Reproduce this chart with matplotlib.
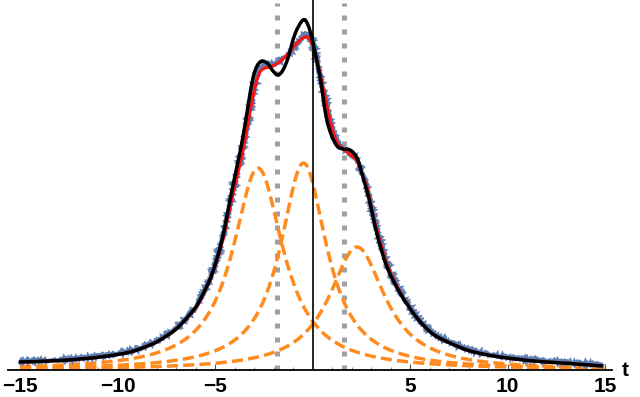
import numpy as np
import matplotlib
matplotlib.use("Agg")
import matplotlib.pyplot as plt
from matplotlib.path import Path
from matplotlib.patches import PathPatch
from matplotlib.ticker import MultipleLocator

# pixel scale: 19.5 px per t unit, t=0 at px 312.5
def px_to_t(px):
    return (np.asarray(px, dtype=float) - 312.5) / 19.5

# black curve (total model), read as (pixel x, height above axis in px)
black_px = [19, 60, 100, 130, 150, 160, 175, 185, 195, 202, 212, 222, 231, 240,
            245, 249, 253, 257, 262, 268, 273, 278, 283, 288, 295, 303, 308,
            313, 320, 326, 331, 337, 343, 350, 357, 363, 370, 377, 387, 400,
            417, 433, 450, 467, 483, 500, 520, 540, 570, 603]
black_h = [8, 9.5, 13, 18, 25, 30, 40, 50, 62, 74, 96, 130, 175, 218,
           245, 270, 292, 304, 309, 306, 299, 295, 300, 312, 336, 350, 345,
           327, 293, 254, 236, 224, 221, 220, 212, 193, 167, 136, 103, 77,
           52, 36, 27, 20, 16, 13, 10.5, 8.5, 6.5, 4]

# red curve (smooth fit)
red_px = [19, 60, 100, 130, 150, 160, 175, 185, 195, 202, 212, 222, 232, 242,
          248, 252, 256, 260, 265, 270, 278, 287, 297, 305, 310, 315, 323, 330,
          337, 347, 357, 363, 367, 372, 377, 387, 400, 417, 433, 450, 467, 483,
          500, 520, 540, 570, 603]
red_h = [8, 9.5, 13, 18, 25, 30, 40, 50, 61, 73, 95, 127, 172, 215,
         248, 268, 287, 298, 302, 303, 307, 315, 327, 333, 330, 317, 283, 250,
         228, 218, 209, 193, 183, 160, 140, 106, 78, 52, 36, 27, 20, 16,
         13, 10.5, 8.5, 6.5, 4]

# measured data (blue), slightly off the fit near the peaks
blue_h = [9, 10, 14, 19, 26, 31, 41, 51, 62, 75, 97, 130, 175, 218,
          250, 270, 290, 303, 306, 305, 308, 314, 326, 336, 335, 318, 282, 251,
          229, 219, 210, 194, 183, 160, 141, 107, 79, 53, 37, 28, 21, 17,
          14, 11.5, 9.5, 7.5, 5]

# three Lorentzian components (center px, height px, half width in t)
comp_center_px = [258, 303.5, 357]
comp_height = [202, 207, 123]
comp_width = [1.58, 1.45, 1.75]

# gray dotted markers
marker_px = [277, 344]

xticks = [-15, -10, -5, 5, 10, 15]


def smooth_path(x, y):
    # Catmull-Rom through the read points, drawn as cubic Bezier segments
    p = np.column_stack([x, y])
    verts = [p[0]]
    codes = [Path.MOVETO]
    n = len(p)
    for i in range(n - 1):
        p0 = p[i - 1] if i > 0 else p[i]
        p3 = p[i + 2] if i + 2 < n else p[i + 1]
        c1 = p[i] + (p[i + 1] - p0) / 6
        c2 = p[i + 1] - (p3 - p[i]) / 6
        verts += [c1, c2, p[i + 1]]
        codes += [Path.CURVE4] * 3
    return Path(verts, codes)


fig = plt.figure(figsize=(6.4, 3.97), dpi=100)
left, right = 8.3, 611.8
ax = fig.add_axes([left / 640, 27 / 397, (right - left) / 640, 370 / 397])
ax.set_xlim(px_to_t(left), px_to_t(right))
ax.set_ylim(0, 370)

t = np.linspace(-15, 15, 1200)
for c, h, w in zip(comp_center_px, comp_height, comp_width):
    x0 = px_to_t(c)
    ax.plot(t, h / (1 + ((t - x0) / w) ** 2), color='#FF8A1E', lw=2.5,
            linestyle=(0, (3.2, 1.5)), zorder=2)

for m in marker_px:
    ax.plot([px_to_t(m)] * 2, [0, 367], color='#A0A0A0', lw=3.6,
            linestyle=(0, (1.0, 1.8)), zorder=1.5)

blue = PathPatch(smooth_path(px_to_t(red_px), blue_h), fill=False,
                 edgecolor='#5E81B5', lw=2.8, zorder=3)
blue.set_sketch_params(scale=1.4, length=2.0, randomness=2)
ax.add_patch(blue)
ax.add_patch(PathPatch(smooth_path(px_to_t(red_px), red_h), fill=False,
                       edgecolor='#FF1010', lw=2.2, zorder=4))
ax.add_patch(PathPatch(smooth_path(px_to_t(black_px), black_h), fill=False,
                       edgecolor='black', lw=2.5, zorder=5))

ax.axvline(0, color='black', lw=1.2, zorder=6)

for s in ['left', 'right', 'top']:
    ax.spines[s].set_visible(False)
ax.spines['bottom'].set_linewidth(1.3)
ax.set_yticks([])
ax.set_xticks(xticks)
ax.set_xticklabels([f'{v}'.replace('-', '\u2212') for v in xticks],
                   fontfamily='Liberation Sans', fontweight='bold', fontsize=15)
ax.xaxis.set_minor_locator(MultipleLocator(1))
ax.tick_params(axis='x', which='major', direction='in', length=4, width=0.8,
               color='#555555', pad=5)
ax.tick_params(axis='x', which='minor', direction='in', length=2.5, width=0.6,
               color='#777777')

ax.text(px_to_t(625), 0, 't', ha='center', va='center', fontsize=15,
        fontfamily='Liberation Sans', fontweight='bold', clip_on=False)

fig.savefig('out.png', dpi=100)
